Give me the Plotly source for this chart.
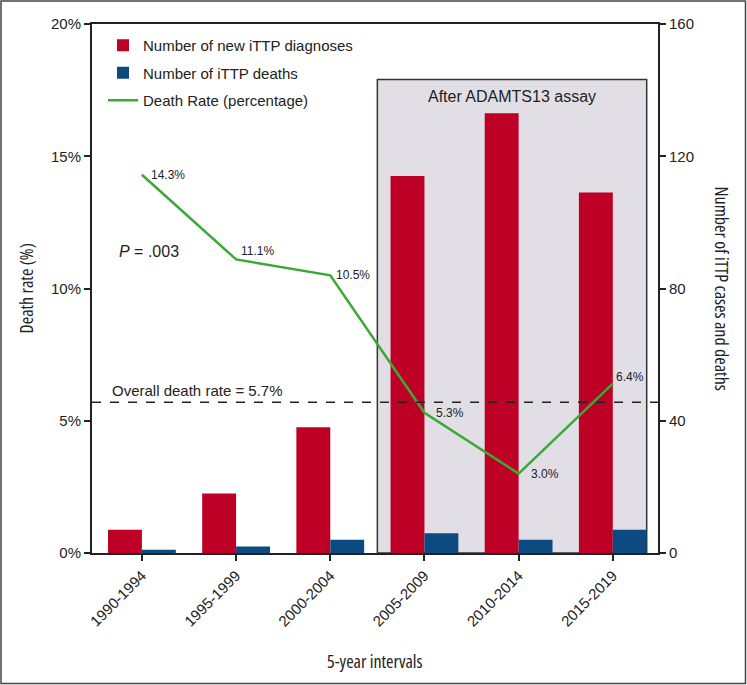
import plotly.graph_objects as go

# ---- data ----
intervals = ["1990-1994", "1995-1999", "2000-2004", "2005-2009", "2010-2014", "2015-2019"]
new_diagnoses = [7, 18, 38, 114, 133, 109]
deaths = [1, 2, 4, 6, 4, 7]
death_rate = [14.3, 11.1, 10.5, 5.3, 3.0, 6.4]
rate_labels = ["14.3%", "11.1%", "10.5%", "5.3%", "3.0%", "6.4%"]
overall_rate = round(100 * sum(deaths) / sum(new_diagnoses), 1)
p_value = ".003"
rate_ticks = [0, 5, 10, 15, 20]
rate_ticktext = ["0%", "5%", "10%", "15%", "20%"]
count_ticks = [0, 40, 80, 120, 160]

# ---- style ----
RED = "#be0026"
BLUE = "#0d4a7f"
GREEN = "#3aaa35"
INK = "#222222"
FONT = "Liberation Sans, Arial, Helvetica, sans-serif"
NARROW = "Open Sans, Liberation Sans, sans-serif"
label_xshift = [7, 3, 4, 10, 10, 1]
label_yshift = [0, 8, 0, 0, 0, 7]

W, H = 747, 685
ML, MR, MT, MB = 92, 89, 24, 132
PW, PH = W - ML - MR, H - MT - MB
RATE_MAX, COUNT_MAX = 20, 160

fig = go.Figure()

fig.add_trace(go.Bar(
    x=intervals, y=new_diagnoses, name="Number of new iTTP diagnoses",
    marker=dict(color=RED, line=dict(width=0)), offset=-0.36, width=0.36,
    yaxis="y", legendgroup="a",
))
fig.add_trace(go.Bar(
    x=intervals, y=deaths, name="Number of iTTP deaths",
    marker=dict(color=BLUE, line=dict(width=0)), offset=0, width=0.36,
    yaxis="y", legendgroup="b",
))
fig.add_trace(go.Scatter(
    x=intervals, y=death_rate, name="Death Rate (percentage)", mode="lines",
    line=dict(color=GREEN, width=2.5), yaxis="y2", legendgroup="c",
))

box_x0, box_x1, box_top_rate = 2.5, 5.36, 17.9
box_top = box_top_rate * COUNT_MAX / RATE_MAX
shapes = [
    dict(type="rect", xref="x", yref="y", x0=box_x0, x1=box_x1, y0=0, y1=box_top,
         fillcolor="#e1dfe5", line=dict(color="#333333", width=1.5), layer="below"),
    dict(type="line", xref="paper", yref="y2", x0=0, x1=1, y0=overall_rate, y1=overall_rate,
         line=dict(color=INK, width=1.6, dash="dash"), layer="above"),
    dict(type="rect", xref="paper", yref="paper",
         x0=(1 - ML) / PW, x1=(W - 1.5 - ML) / PW,
         y0=-(MB - 1.5) / PH, y1=1 + (MT - 1) / PH,
         line=dict(color="#444444", width=1.5), fillcolor="rgba(0,0,0,0)"),
]


def condensed(s):
    return f'<span style="font-stretch:78%">{s}</span>'


title_font = dict(size=18, color=INK, family=NARROW)
annotations = [
    dict(text=f"Overall death rate = {overall_rate}%", xref="paper", yref="y2",
         x=(110 - ML) / PW, y=overall_rate, xanchor="left", yanchor="bottom", yshift=1,
         showarrow=False, font=dict(size=15, color=INK, family=FONT)),
    dict(text=f"<i>P</i> = {p_value}", xref="paper", yref="paper",
         x=(117 - ML) / PW, y=(553 - 251) / PH, xanchor="left", yanchor="middle",
         showarrow=False, font=dict(size=16, color=INK, family=FONT)),
    dict(text="After ADAMTS13 assay", xref="x", yref="y",
         x=(box_x0 + box_x1) / 2, y=box_top, xanchor="center", yanchor="top", yshift=-6,
         showarrow=False, font=dict(size=16, color=INK, family=FONT)),
    dict(text=condensed("Death rate (%)"), xref="paper", yref="paper", x=(25 - ML) / PW, y=0.5,
         xanchor="center", yanchor="middle", textangle=-90, showarrow=False,
         font=title_font),
    dict(text=condensed("Number of iTTP cases and deaths"), xref="paper", yref="paper",
         x=(722 - ML) / PW, y=0.5, xanchor="center", yanchor="middle", textangle=90,
         showarrow=False, font=title_font),
    dict(text=condensed("5-year intervals"), xref="paper", yref="paper", x=0.5, y=-(661 - 553) / PH,
         xanchor="center", yanchor="middle", showarrow=False,
         font=title_font),
]
for cat, val, lab, dx, dy in zip(intervals, death_rate, rate_labels, label_xshift, label_yshift):
    annotations.append(dict(
        text=lab, xref="x", yref="y2", x=cat, y=val, xanchor="left", yanchor="middle",
        xshift=dx, yshift=dy, showarrow=False,
        font=dict(size=12, color=INK, family=FONT)))

axis_common = dict(showline=True, linecolor=INK, linewidth=2, ticks="outside", ticklen=6,
                   tickcolor=INK, tickwidth=1.5, showgrid=False, zeroline=False,
                   tickfont=dict(size=15, color=INK, family=FONT))

fig.update_layout(
    width=W, height=H,
    margin=dict(l=ML, r=MR, t=MT, b=MB),
    paper_bgcolor="white", plot_bgcolor="white",
    font=dict(family=FONT, size=15, color=INK),
    barmode="overlay",
    showlegend=True,
    legend=dict(x=(103 - ML) / PW, y=1 - 5 / PH, xanchor="left", yanchor="top",
                bgcolor="rgba(0,0,0,0)", tracegroupgap=5,
                font=dict(size=15, color=INK, family=FONT)),
    xaxis=dict(type="category", categoryorder="array", categoryarray=intervals,
               range=[-0.53, 5.48], mirror=True, tickangle=-45, **axis_common),
    yaxis=dict(range=[0, COUNT_MAX], tickvals=count_ticks, side="right", **axis_common),
    yaxis2=dict(range=[0, RATE_MAX], tickvals=rate_ticks, ticktext=rate_ticktext,
                overlaying="y", side="left", **axis_common),
    shapes=shapes,
    annotations=annotations,
)

fig.write_html("out.html", config={"displayModeBar": False},
               post_script="document.body.style.margin='0';")
